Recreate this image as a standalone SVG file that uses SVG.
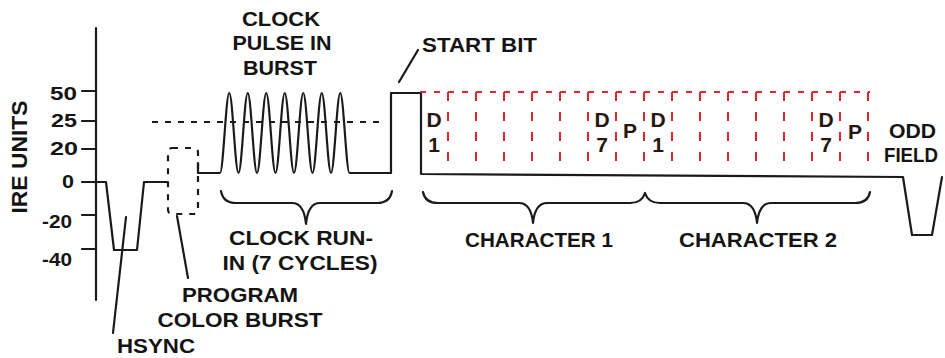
<svg xmlns="http://www.w3.org/2000/svg" width="945" height="358" viewBox="0 0 945 358">
<style>
.ln{fill:none;stroke:#1a1a1a;stroke-width:2.2;stroke-linejoin:round;stroke-linecap:round}
.dk{fill:none;stroke:#1a1a1a;stroke-width:2.2;stroke-dasharray:6 7}
.rd{fill:none;stroke:#e3262b;stroke-width:2}
.t{font-family:"Liberation Sans",Arial,sans-serif;font-weight:bold;font-size:21px;fill:#141414}
.n{font-family:"Liberation Sans",Arial,sans-serif;font-weight:bold;font-size:19px;fill:#141414;text-anchor:end}
.c{text-anchor:middle}
.b{font-family:"Liberation Sans",Arial,sans-serif;font-weight:bold;font-size:21px;fill:#2a1410;text-anchor:middle}
</style>
<rect width="945" height="358" fill="#ffffff"/>
<g id="axis">
<line class="ln" x1="96" y1="28" x2="96" y2="300"/>
<path class="ln" d="M82,91H96M82,121H96M82,149H96M82,182H96M82,215H96M82,249H96"/>
<text class="n" x="77" y="100" textLength="27" lengthAdjust="spacingAndGlyphs">50</text>
<text class="n" x="77" y="127" textLength="26" lengthAdjust="spacingAndGlyphs">25</text>
<text class="n" x="78" y="155" textLength="28" lengthAdjust="spacingAndGlyphs">20</text>
<text class="n" x="74" y="188" textLength="12" lengthAdjust="spacingAndGlyphs">0</text>
<text class="n" x="72" y="228" textLength="30" lengthAdjust="spacingAndGlyphs">-20</text>
<text class="n" x="72" y="266" textLength="30" lengthAdjust="spacingAndGlyphs">-40</text>
<text class="t c" transform="translate(27,157) rotate(-90)" textLength="113" lengthAdjust="spacingAndGlyphs" style="font-size:22px">IRE UNITS</text>
</g>
<g id="signal">
<path class="ln" d="M96,182 L106,182 L114,250 L137,250 L144,182 L167,182"/>
<path class="ln" d="M198,163 L198,173 L220,173 C223.33,173 225.92,93 229.25,93 S235.17,173 238.5,173 S244.42,93 247.75,93 S253.67,173 257,173 S262.92,93 266.25,93 S272.17,173 275.5,173 S281.42,93 284.75,93 S290.67,173 294,173 S299.92,93 303.25,93 S309.17,173 312.5,173 S318.42,93 321.75,93 S327.67,173 331,173 S336.92,93 340.25,93 S346.17,173 349.5,173 L391,173 L391,93 L421,93 L421,174 L903,177 L912,235 L932,235 L942,177"/>
<line class="dk" x1="152" y1="122" x2="384" y2="122"/>
<rect class="dk" x="168" y="148" width="30" height="66" rx="4"/>
</g>
<g id="bits">
<line class="rd" x1="420" y1="92" x2="870" y2="92" stroke-dasharray="6 8"/>
<path class="rd" stroke-dasharray="9 11" d="M448,92V170M476,92V170M504,92V170M532,92V170M560,92V170M588,92V170M616,92V170M644,92V170M672,92V170M700,92V170M728,92V170M756,92V170M784,92V170M812,92V170M840,92V170M868,92V170"/>
<text class="b" x="434" y="127">D</text><text class="b" x="434" y="152">1</text>
<text class="b" x="602" y="127">D</text><text class="b" x="602" y="152">7</text>
<text class="b" x="630" y="138">P</text>
<text class="b" x="658" y="127">D</text><text class="b" x="658" y="152">1</text>
<text class="b" x="826" y="127">D</text><text class="b" x="826" y="152">7</text>
<text class="b" x="855" y="139">P</text>
</g>
<g id="connectors">
<line class="ln" x1="126" y1="217" x2="113" y2="333"/>
<line class="ln" x1="177" y1="216" x2="188" y2="278"/>
<line class="ln" x1="399" y1="82" x2="418" y2="50"/>
<path class="ln" d="M221,191 Q223,203 236,203 L292,203 Q304,203 306,224 Q308,203 320,203 L377,203 Q390,203 392,191"/>
<path class="ln" d="M423,192 Q425,203 438,203 L519,203 Q531,203 533,223 Q535,203 547,203 L630,203 Q642,203 645,193 Q648,203 660,203 L743,203 Q755,203 757,223 Q759,203 771,203 L855,203 Q868,203 870,192"/>
</g>
<g id="labels">
<text class="t c" x="281" y="26" textLength="78" lengthAdjust="spacingAndGlyphs">CLOCK</text>
<text class="t c" x="282" y="50" textLength="99" lengthAdjust="spacingAndGlyphs">PULSE IN</text>
<text class="t c" x="280" y="75" textLength="74" lengthAdjust="spacingAndGlyphs">BURST</text>
<text class="t" x="422" y="52" textLength="115" lengthAdjust="spacingAndGlyphs">START BIT</text>
<text class="t" x="889" y="138" textLength="47" lengthAdjust="spacingAndGlyphs">ODD</text>
<text class="t" x="884" y="162" textLength="54" lengthAdjust="spacingAndGlyphs">FIELD</text>
<text class="t c" x="301" y="245" textLength="144" lengthAdjust="spacingAndGlyphs">CLOCK RUN-</text>
<text class="t c" x="300" y="270" textLength="155" lengthAdjust="spacingAndGlyphs">IN (7 CYCLES)</text>
<text class="t c" x="539" y="247" textLength="148" lengthAdjust="spacingAndGlyphs">CHARACTER 1</text>
<text class="t c" x="758" y="247" textLength="158" lengthAdjust="spacingAndGlyphs">CHARACTER 2</text>
<text class="t c" x="240" y="302" textLength="116" lengthAdjust="spacingAndGlyphs">PROGRAM</text>
<text class="t c" x="240" y="327" textLength="165" lengthAdjust="spacingAndGlyphs">COLOR BURST</text>
<text class="t c" x="156" y="353" textLength="78" lengthAdjust="spacingAndGlyphs">HSYNC</text>
</g>
</svg>
